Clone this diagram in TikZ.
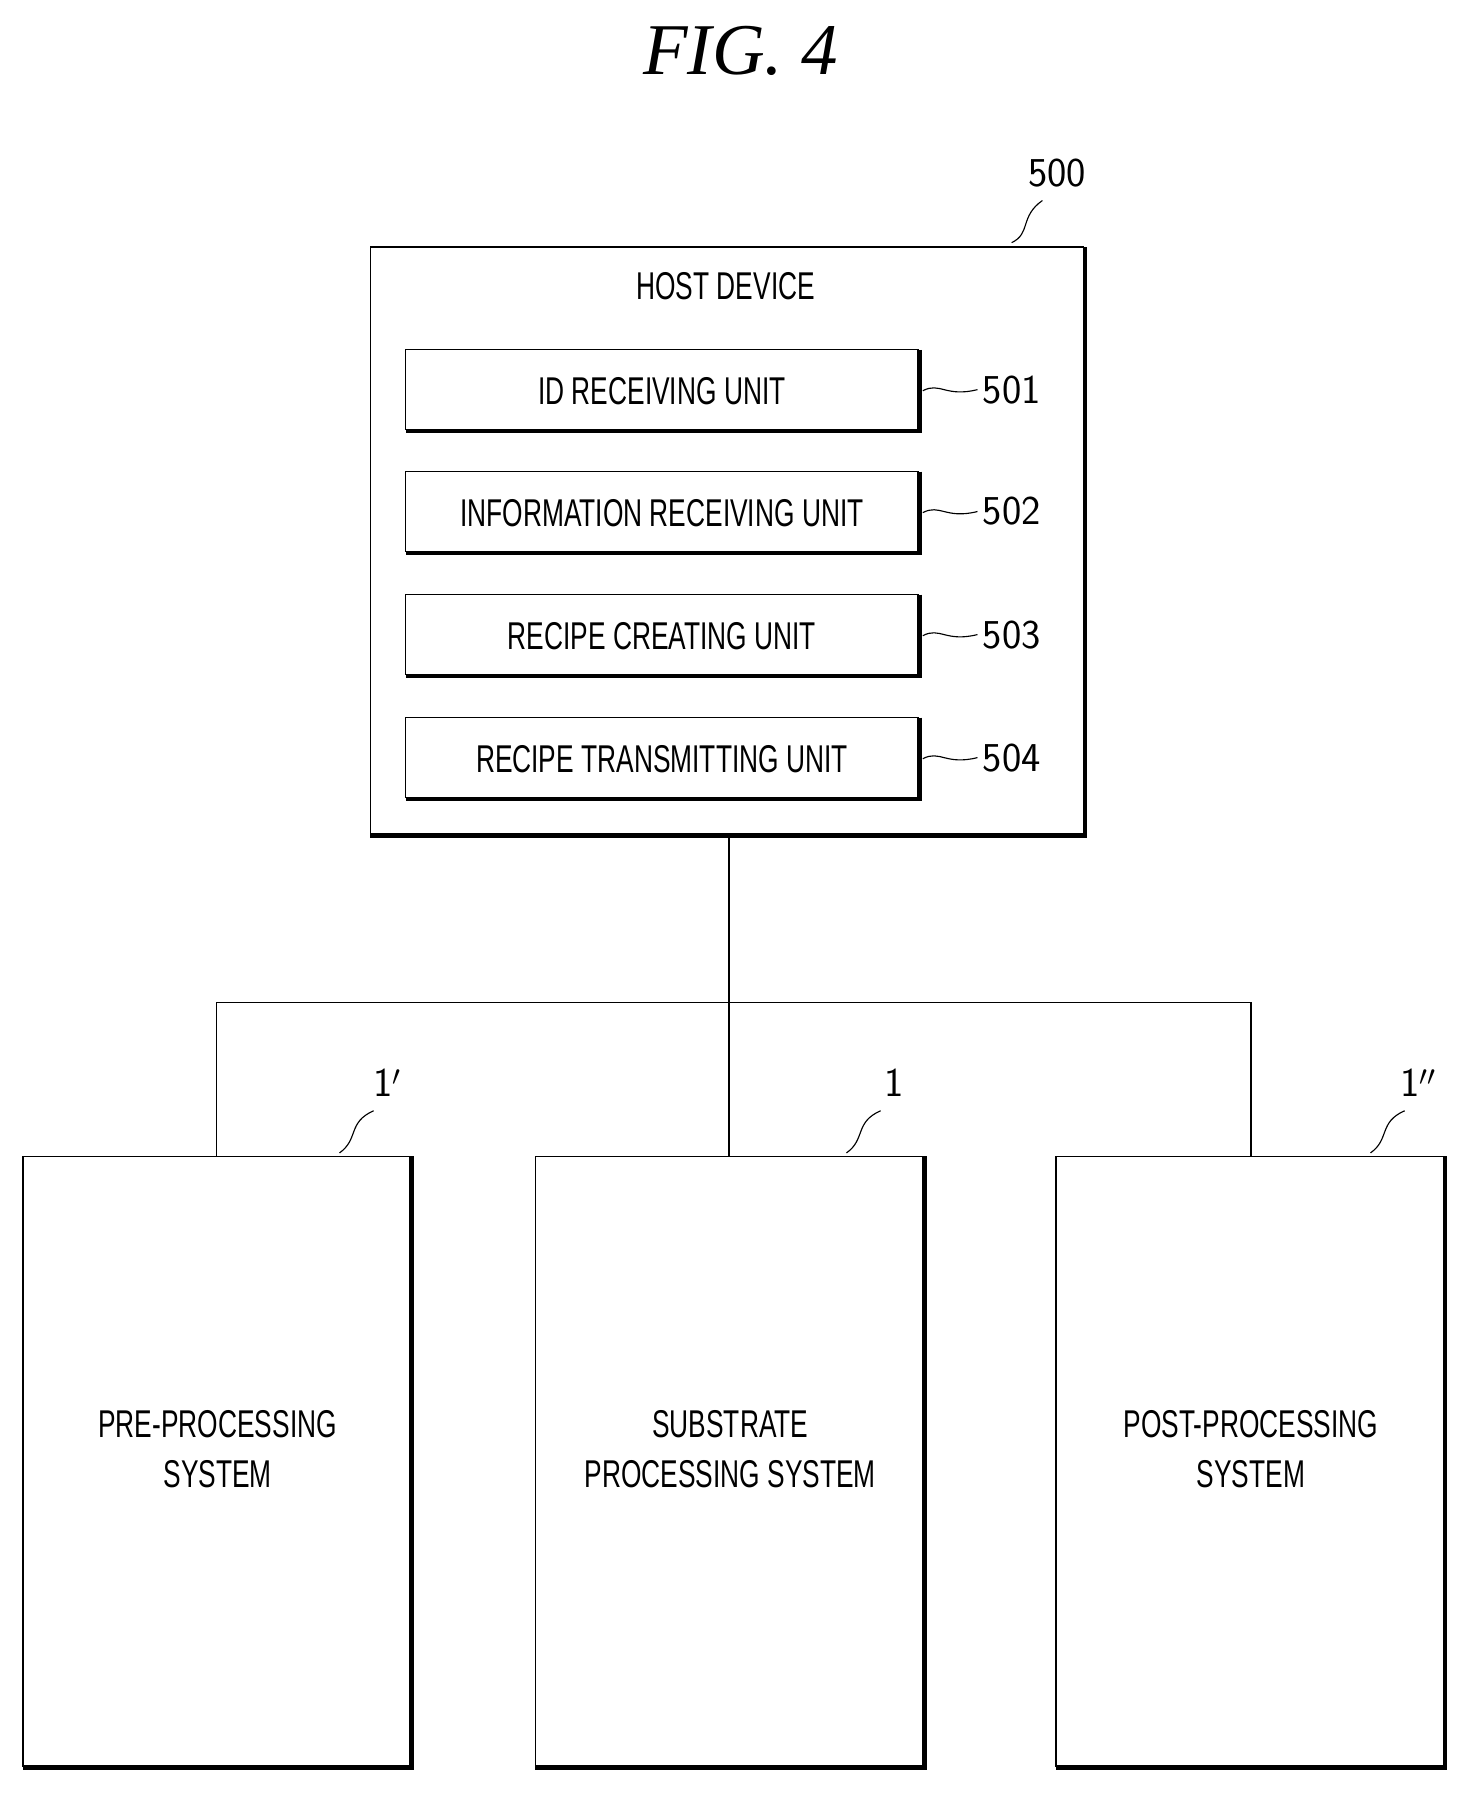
\documentclass[tikz,border=0pt]{standalone}
\usepackage{fontspec}
\setmainfont{Liberation Serif}
\newfontfamily\cond[FakeStretch=0.68]{Liberation Sans}
\begin{document}
\begin{tikzpicture}[x=1pt,y=-1pt,
  lbl/.style={font=\cond\fontsize{34}{38}\selectfont, inner sep=0},
  num/.style={font=\fontsize{36}{40}\selectfont\sffamily, inner sep=0},
  box/.style={draw, line width=1.3pt},
  sq/.style={line width=1pt}]
\useasboundingbox (0,0) rectangle (1300,1580);
\node[font=\itshape\fontsize{64}{70}\selectfont] (title) at (650,45) {FIG. 4};
% host
\draw[box] (325,217) rectangle (951,732);
\draw[line width=3pt] (953,217) -- (953,734) -- (325,734);
\node[lbl] (host) at (637,251) {HOST DEVICE};
\node[num] (n500) at (928,152) {500};
\draw[sq] (888,213) .. controls (905,205) and (895,190) .. (915,176);
\foreach \y/\t/\n in {307/ID RECEIVING UNIT/501,414/INFORMATION RECEIVING UNIT/502,522/RECIPE CREATING UNIT/503,630/RECIPE TRANSMITTING UNIT/504}{
  \draw[box] (356,\y) rectangle (806,\y+70);
  \draw[line width=3pt] (808,\y) -- (808,\y+72) -- (356,\y+72);
  \node[lbl] at (581,\y+36) {\t};
  \node[num] (u\n) at (888,\y+35) {\n};
  \draw[sq] (810,\y+36) .. controls (825,\y+28) and (830,\y+42) .. (858,\y+35);
}
% systems
\foreach \x/\a/\b/\l/\lx/\nm in {20/PRE-PROCESSING/SYSTEM/1$'$/340/pre,470/SUBSTRATE/PROCESSING SYSTEM/1/785/sub,927/POST-PROCESSING/SYSTEM/1$''$/1245/post}{
  \draw[box] (\x,1015) rectangle (\x+340,1550);
  \draw[line width=3pt] (\x+342,1015) -- (\x+342,1552) -- (\x,1552);
  \node[lbl,align=center] (\nm) at (\x+171,1272) {\a\\[6pt]\b};
  \node[num] (l\nm) at (\lx,950) {\l};
  \draw[sq] (\lx-42,1012) .. controls (\lx-25,1000) and (\lx-35,985) .. (\lx-12,975);
}
\coordinate (hb) at (640,734);
\coordinate (j) at (640,880);
\draw[line width=1.3pt] (hb) -- (j);
\draw[line width=1.3pt] (190,1015) -- (190,880) -- (1098,880) -- (1098,1015);
\draw[line width=1.3pt] (j) -- (640,1015);
\end{tikzpicture}
\end{document}
